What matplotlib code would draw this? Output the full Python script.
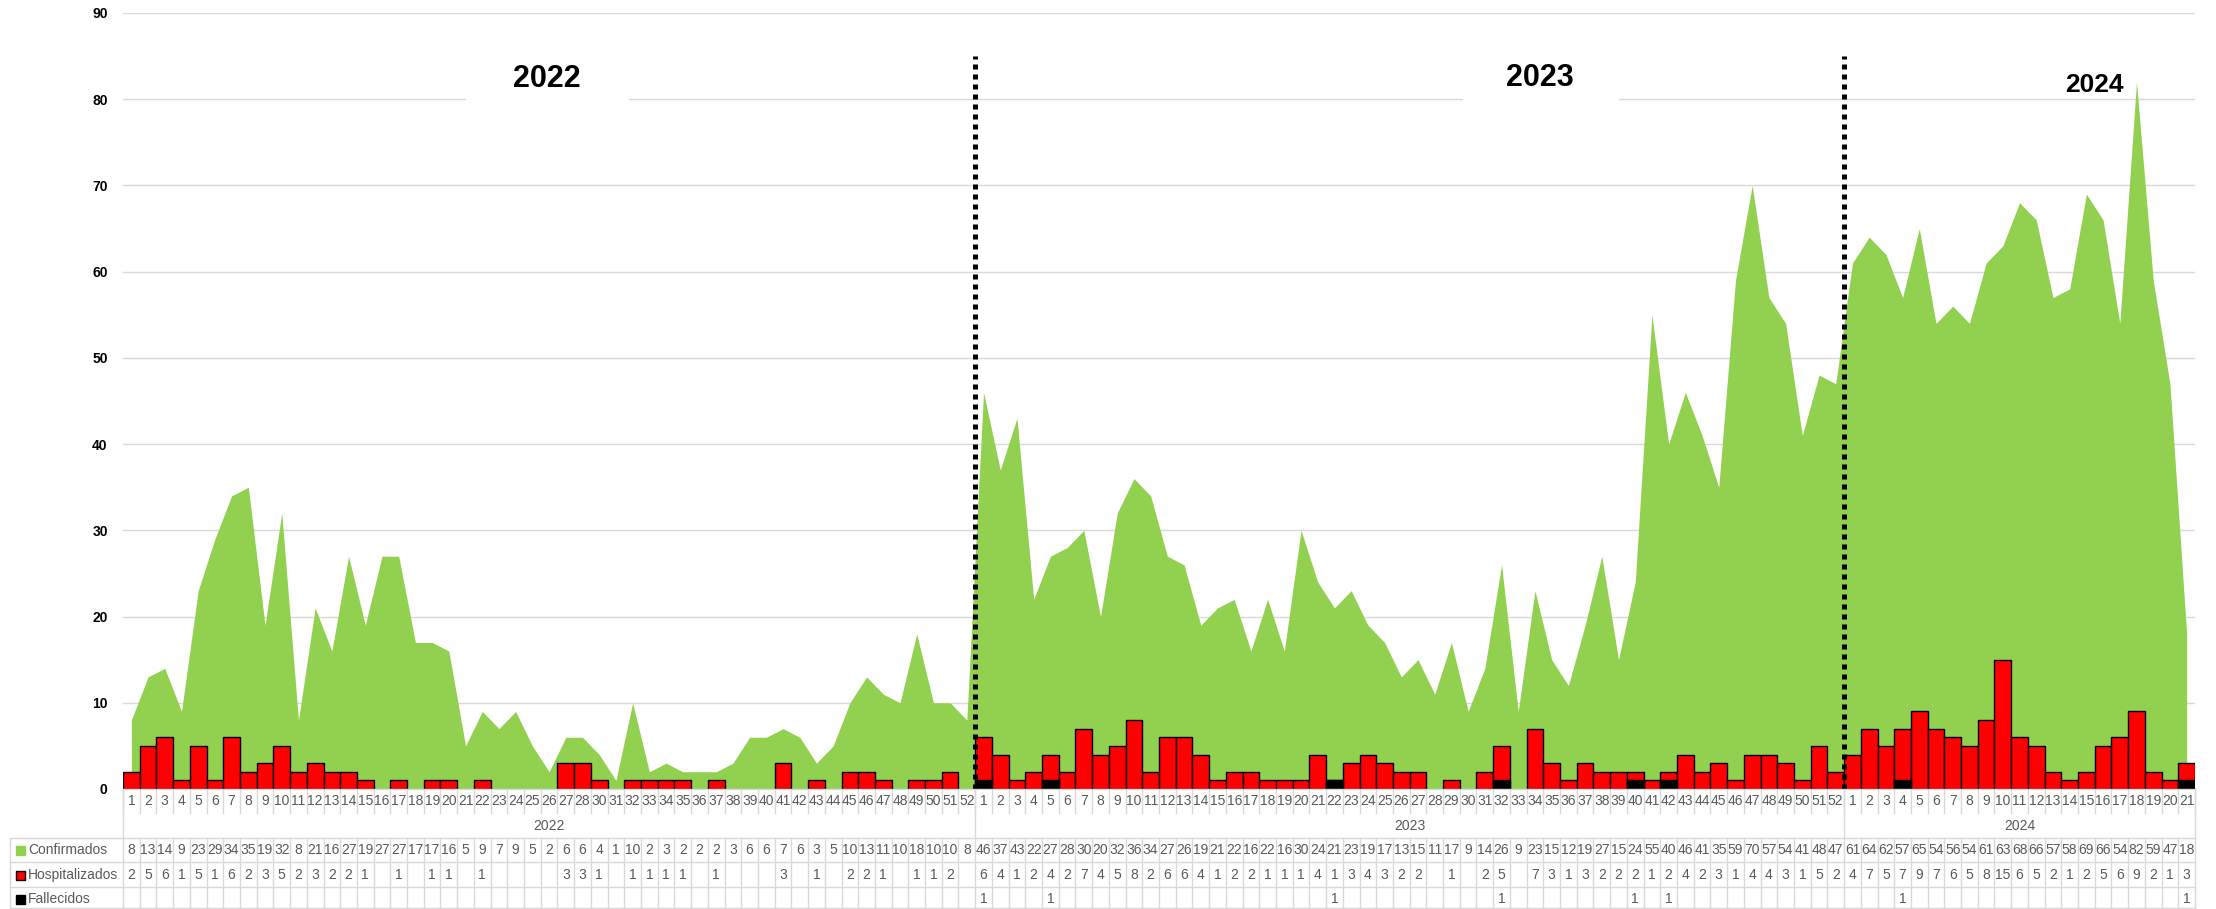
import matplotlib
matplotlib.use("Agg")
import matplotlib.pyplot as plt
import matplotlib.transforms as mtransforms
from matplotlib.lines import Line2D
from matplotlib.patches import Rectangle

# semanas epidemiologicas (2022 no tiene la 29)
weeks_2022 = [1, 2, 3, 4, 5, 6, 7, 8, 9, 10, 11, 12, 13, 14, 15, 16, 17, 18, 19, 20,
              21, 22, 23, 24, 25, 26, 27, 28, 30, 31, 32, 33, 34, 35, 36, 37, 38, 39,
              40, 41, 42, 43, 44, 45, 46, 47, 48, 49, 50, 51, 52]
weeks_2023 = [1, 2, 3, 4, 5, 6, 7, 8, 9, 10, 11, 12, 13, 14, 15, 16, 17, 18, 19, 20,
              21, 22, 23, 24, 25, 26, 27, 28, 29, 30, 31, 32, 33, 34, 35, 36, 37, 38,
              39, 40, 41, 42, 43, 44, 45, 46, 47, 48, 49, 50, 51, 52]
weeks_2024 = [1, 2, 3, 4, 5, 6, 7, 8, 9, 10, 11, 12, 13, 14, 15, 16, 17, 18, 19, 20, 21]

conf_2022 = [8, 13, 14, 9, 23, 29, 34, 35, 19, 32, 8, 21, 16, 27, 19, 27, 27, 17, 17, 16,
             5, 9, 7, 9, 5, 2, 6, 6, 4, 1, 10, 2, 3, 2, 2, 2, 3, 6, 6, 7,
             6, 3, 5, 10, 13, 11, 10, 18, 10, 10, 8]
hosp_2022 = [2, 5, 6, 1, 5, 1, 6, 2, 3, 5, 2, 3, 2, 2, 1, 0, 1, 0, 1, 1,
             0, 1, 0, 0, 0, 0, 3, 3, 1, 0, 1, 1, 1, 1, 0, 1, 0, 0, 0, 3,
             0, 1, 0, 2, 2, 1, 0, 1, 1, 2, 0]
fall_2022 = [0] * 51

conf_2023 = [46, 37, 43, 22, 27, 28, 30, 20, 32, 36, 34, 27, 26, 19, 21, 22, 16, 22, 16, 30,
             24, 21, 23, 19, 17, 13, 15, 11, 17, 9, 14, 26, 9, 23, 15, 12, 19, 27, 15, 24,
             55, 40, 46, 41, 35, 59, 70, 57, 54, 41, 48, 47]
hosp_2023 = [6, 4, 1, 2, 4, 2, 7, 4, 5, 8, 2, 6, 6, 4, 1, 2, 2, 1, 1, 1,
             4, 1, 3, 4, 3, 2, 2, 0, 1, 0, 2, 5, 0, 7, 3, 1, 3, 2, 2, 2,
             1, 2, 4, 2, 3, 1, 4, 4, 3, 1, 5, 2]
fall_2023 = [1, 0, 0, 0, 1, 0, 0, 0, 0, 0, 0, 0, 0, 0, 0, 0, 0, 0, 0, 0,
             0, 1, 0, 0, 0, 0, 0, 0, 0, 0, 0, 1, 0, 0, 0, 0, 0, 0, 0, 1,
             0, 1, 0, 0, 0, 0, 0, 0, 0, 0, 0, 0]

conf_2024 = [61, 64, 62, 57, 65, 54, 56, 54, 61, 63, 68, 66, 57, 58, 69, 66, 54, 82, 59, 47, 18]
hosp_2024 = [4, 7, 5, 7, 9, 7, 6, 5, 8, 15, 6, 5, 2, 1, 2, 5, 6, 9, 2, 1, 3]
fall_2024 = [0, 0, 0, 1, 0, 0, 0, 0, 0, 0, 0, 0, 0, 0, 0, 0, 0, 0, 0, 0, 1]

years = ["2022", "2023", "2024"]
row_names = ["Confirmados", "Hospitalizados", "Fallecidos"]

GREEN = "#92d050"
RED = "#ff0000"
GRID = "#d9d9d9"
TXT = "#595959"
FONT = "Liberation Sans"

weeks = weeks_2022 + weeks_2023 + weeks_2024
conf = conf_2022 + conf_2023 + conf_2024
hosp = hosp_2022 + hosp_2023 + hosp_2024
fall = fall_2022 + fall_2023 + fall_2024
n = len(weeks)
x = list(range(n))
year_len = [len(weeks_2022), len(weeks_2023), len(weeks_2024)]

W, H = 2216, 909
L, R, T, B = 123, 2195, 13, 789


def fy(p):
    return 1 - p / H


def fx(p):
    return p / W


fig = plt.figure(figsize=(W / 100, H / 100), dpi=100)
ax = fig.add_axes([fx(L), fy(B), fx(R) - fx(L), fy(T) - fy(B)])

ax.fill_between(x, conf, color=GREEN, lw=0, zorder=1)
hx = [i for i in x if hosp[i] > 0]
ax.bar(hx, [hosp[i] for i in hx], width=1, color=RED, edgecolor="black", lw=1, zorder=3)
fx_ = [i for i in x if fall[i] > 0]
ax.bar(fx_, [fall[i] for i in fx_], width=1, color="black", edgecolor="black", lw=1, zorder=4)

# separadores de anio
b1 = year_len[0] - 0.5
b2 = year_len[0] + year_len[1] - 0.5
for b in (b1, b2):
    ax.plot([b, b], [0, 85], color="black", lw=3.6, linestyle=(0, (1, 1)),
            dash_capstyle="butt", zorder=6)

ax.set_xlim(-0.5, n - 0.5)
ax.set_ylim(0, 90)
ax.set_yticks(range(0, 91, 10))
ax.set_xticks([])
ax.yaxis.grid(True, color=GRID, lw=1)
ax.set_axisbelow(True)
ax.tick_params(axis="y", length=0, pad=11)
for lab in ax.get_yticklabels():
    lab.set_fontweight("bold")
    lab.set_fontsize(10)
    lab.set_family(FONT)
for s in ax.spines.values():
    s.set_visible(False)

# rotulos grandes de anio
ax.add_patch(Rectangle((20.0, 76.5), 9.8, 11.5, facecolor="white", lw=0, zorder=1.5))
ax.add_patch(Rectangle((79.7, 76.5), 9.3, 11.5, facecolor="white", lw=0, zorder=1.5))
ax.text(24.87, 82.3, years[0], ha="center", va="center", fontsize=22, fontweight="bold",
        family=FONT, zorder=7)
ax.text(84.3, 82.5, years[1], ha="center", va="center", fontsize=22, fontweight="bold",
        family=FONT, zorder=7)
ax.text(117.5, 81.6, years[2], ha="center", va="center", fontsize=19, fontweight="bold",
        family=FONT, zorder=7)

# tabla de datos
tx = mtransforms.blended_transform_factory(ax.transData, fig.transFigure)


def hline(x0, x1, p):
    fig.add_artist(Line2D([fx(x0), fx(x1)], [fy(p), fy(p)], transform=fig.transFigure,
                          color=GRID, lw=1))


def vline(xd, p0, p1):
    ax.add_line(Line2D([xd, xd], [fy(p0), fy(p1)], transform=tx, color=GRID, lw=1,
                       clip_on=False))


hline(L, R, B)
for p in (838, 862, 887, 908):
    hline(10, R, p)
fig.add_artist(Line2D([fx(10), fx(10)], [fy(838), fy(908)], transform=fig.transFigure,
                      color=GRID, lw=1))
for k in range(n + 1):
    vline(k - 0.5, B, 813)
    vline(k - 0.5, 838, 908)
for b in (-0.5, b1, b2, n - 0.5):
    vline(b, B, 838)

for i in x:
    ax.text(i, fy(801), str(weeks[i]), transform=tx, ha="center", va="center",
            fontsize=10, color=TXT, family=FONT, clip_on=False)
    for val, p in ((conf[i], 850), (hosp[i], 875), (fall[i], 899)):
        if val:
            ax.text(i, fy(p), str(val), transform=tx, ha="center", va="center",
                    fontsize=10, color=TXT, family=FONT, clip_on=False)

starts = [-0.5, b1, b2]
ends = [b1, b2, n - 0.5]
for yr, s0, s1 in zip(years, starts, ends):
    ax.text((s0 + s1) / 2, fy(826), yr, transform=tx, ha="center", va="center",
            fontsize=10, color=TXT, family=FONT, clip_on=False)

keys = [(GREEN, GREEN), (RED, "black"), ("black", "black")]
for name, (fc, ec), p in zip(row_names, keys, (850, 875, 899)):
    fig.add_artist(Rectangle((fx(16), fy(p + 4.5)), fx(9), 9 / H, facecolor=fc,
                             edgecolor=ec, lw=1, transform=fig.transFigure))
    fig.text(fx(28), fy(p), name, ha="left", va="center", fontsize=10, color=TXT,
             family=FONT)

fig.savefig("out.png", dpi=100, facecolor="white")
